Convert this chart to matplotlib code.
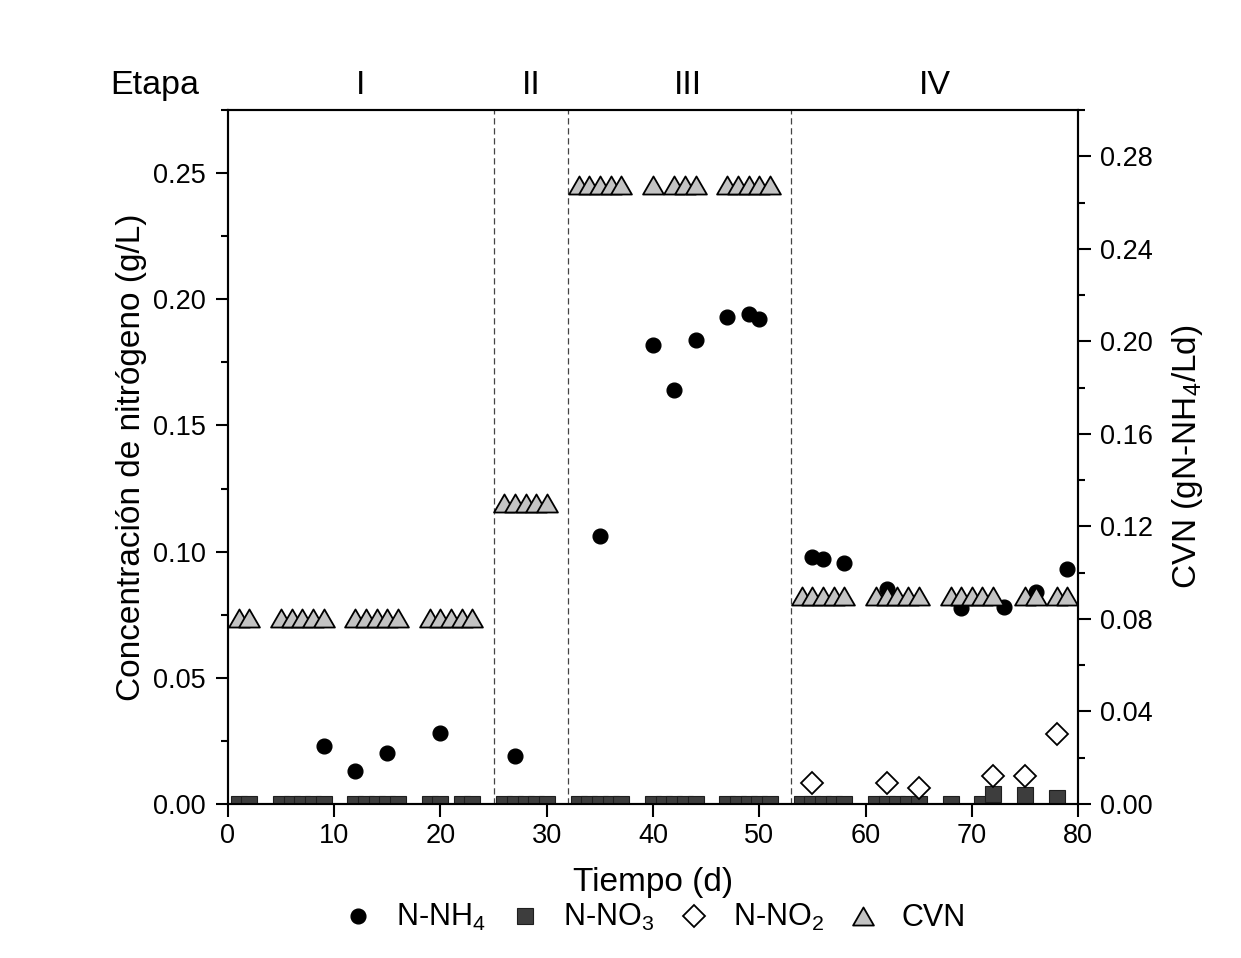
import matplotlib
matplotlib.use('Agg')
import matplotlib.pyplot as plt
from matplotlib.path import Path
from matplotlib.ticker import MultipleLocator, FormatStrFormatter

plt.rcParams['font.family'] = ['Liberation Sans', 'DejaVu Sans']
plt.rcParams['mathtext.fontset'] = 'custom'
plt.rcParams['mathtext.rm'] = 'Liberation Sans'
plt.rcParams['mathtext.it'] = 'Liberation Sans:italic'

# N-NH4 (g/L)
nh4_day = [9, 12, 15, 20, 27, 35, 40, 42, 44, 47, 49, 50,
           55, 56, 58, 62, 69, 73, 76, 79]
nh4 = [0.023, 0.013, 0.020, 0.028, 0.019, 0.106, 0.182, 0.164, 0.184, 0.193,
       0.194, 0.192, 0.098, 0.097, 0.0955, 0.085, 0.0775, 0.078, 0.084, 0.093]

# N-NO3 (g/L)
no3_day = [1, 2, 5, 6, 7, 8, 9, 12, 13, 14, 15, 16, 19, 20, 22, 23,
           26, 27, 28, 29, 30, 33, 34, 35, 36, 37, 40, 41, 42, 43, 44,
           47, 48, 49, 50, 51, 54, 55, 56, 57, 58, 61, 62, 63, 64, 65,
           68, 71, 72, 75, 78]
no3 = [0, 0, 0, 0, 0, 0, 0, 0, 0, 0, 0, 0, 0, 0, 0, 0,
       0, 0, 0, 0, 0, 0, 0, 0, 0, 0, 0, 0, 0, 0, 0,
       0, 0, 0, 0, 0, 0, 0, 0, 0, 0, 0, 0, 0, 0, 0,
       0, 0, 0.0041, 0.0037, 0.0024]

# N-NO2 (g/L)
no2_day = [55, 62, 65, 72, 75, 78]
no2 = [0.0084, 0.0082, 0.0065, 0.0111, 0.0112, 0.0279]

# CVN (gN-NH4/Ld), right axis
cvn_day = [1, 2, 5, 6, 7, 8, 9, 12, 13, 14, 15, 16, 19, 20, 21, 22, 23,
           26, 27, 28, 29, 30,
           33, 34, 35, 36, 37, 40, 42, 43, 44, 47, 48, 49, 50, 51,
           54, 55, 56, 57, 58, 61, 62, 63, 64, 65, 68, 69, 70, 71, 72,
           75, 76, 78, 79]
cvn = [0.0805, 0.0805, 0.0805, 0.0805, 0.0805, 0.0805, 0.0805, 0.0805,
       0.0805, 0.0805, 0.0805, 0.0805, 0.0805, 0.0805, 0.0805, 0.0805, 0.0805,
       0.130, 0.130, 0.130, 0.130, 0.130,
       0.2675, 0.2675, 0.2675, 0.2675, 0.2675, 0.2675, 0.2675, 0.2675,
       0.2675, 0.2675, 0.2675, 0.2675, 0.2675, 0.2675,
       0.0898, 0.0898, 0.0898, 0.0898, 0.0898, 0.0898, 0.0898, 0.0898,
       0.0898, 0.0898, 0.0898, 0.0898, 0.0898, 0.0898, 0.0898,
       0.0898, 0.0898, 0.0898, 0.0898]

stage_bounds = [25, 32, 53]
stage_names = ['I', 'II', 'III', 'IV']
stage_pos = [12.5, 28.5, 43.3, 66.5]

fig = plt.figure(figsize=(12.41, 9.58), dpi=100)
ax = fig.add_axes([0.1837, 0.1608, 0.685, 0.7244])
ax2 = ax.twinx()

for b in stage_bounds:
    ax.axvline(b, color='#444444', lw=0.9, ls=(0, (5, 3)), zorder=1)

# equilateral triangle like Origin's
tri = Path([(-1, -0.866), (1, -0.866), (0, 0.866), (-1, -0.866)],
           [Path.MOVETO, Path.LINETO, Path.LINETO, Path.CLOSEPOLY])

h1, = ax.plot(nh4_day, nh4, ls='none', marker='o', ms=10.6, color='black',
              label=r'N-NH$_\mathregular{4}$', zorder=3)
h2, = ax.plot(no3_day, no3, ls='none', marker='s', ms=11.3, mfc='#3d3d3d',
              mec='#1e1e1e', mew=0.8, label=r'N-NO$_\mathregular{3}$', zorder=3)
h3, = ax.plot(no2_day, no2, ls='none', marker='D', ms=11.0, mfc='white',
              mec='black', mew=1.3, label=r'N-NO$_\mathregular{2}$', zorder=4)
h4, = ax2.plot(cvn_day, cvn, ls='none', marker=tri, ms=15.0, mfc='#c3c3c3',
               mec='black', mew=1.3, label='CVN', zorder=3)

ax.set_xlim(0, 80)
ax.set_ylim(0, 0.275)
ax2.set_ylim(0, 0.30)

ax.xaxis.set_major_locator(MultipleLocator(10))
ax.yaxis.set_major_locator(MultipleLocator(0.05))
ax.yaxis.set_minor_locator(MultipleLocator(0.025))
ax.yaxis.set_major_formatter(FormatStrFormatter('%.2f'))
ax2.yaxis.set_major_locator(MultipleLocator(0.04))
ax2.yaxis.set_minor_locator(MultipleLocator(0.02))
ax2.yaxis.set_major_formatter(FormatStrFormatter('%.2f'))

for a in (ax, ax2):
    for s in a.spines.values():
        s.set_linewidth(1.5)
    a.tick_params(which='major', direction='out', length=9, width=1.5,
                  labelsize=19.5, pad=7)
    a.tick_params(which='minor', direction='out', length=5, width=1.5)
ax.tick_params(top=False)
ax.tick_params(axis='x', pad=5)

ax.set_xlabel('Tiempo (d)', fontsize=24, labelpad=13)
ax.set_ylabel('Concentración de nitrógeno (g/L)', fontsize=24, labelpad=4)
ax2.set_ylabel(r'CVN (gN-NH$_\mathregular{4}$/Ld)', fontsize=24, labelpad=12)

ax.text(-6.9, 1.035, 'Etapa', transform=ax.get_xaxis_transform(),
        ha='center', va='center', fontsize=24.5, clip_on=False)
for name, xp in zip(stage_names, stage_pos):
    ax.text(xp, 1.035, name, transform=ax.get_xaxis_transform(),
            ha='center', va='center', fontsize=24.5, clip_on=False)

fig.legend(handles=[h1, h2, h3, h4], loc='center', ncol=4, frameon=False,
           bbox_to_anchor=(0.524, 0.042), fontsize=22, handletextpad=0.5,
           columnspacing=0.55, handlelength=1.5)

fig.savefig('out.png', dpi=100)
